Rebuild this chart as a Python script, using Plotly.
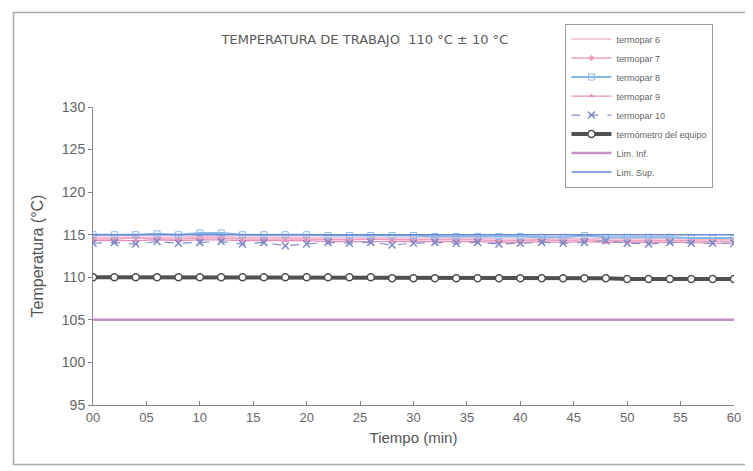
import plotly.graph_objects as go

tiempo = list(range(0, 61, 2))
termopar6 = [114.7, 114.7, 114.7, 114.7, 114.7, 114.8, 114.8, 114.7, 114.7, 114.7, 114.7, 114.6, 114.6, 114.6, 114.6, 114.6, 114.6, 114.6, 114.6, 114.5, 114.5, 114.5, 114.5, 114.6, 114.5, 114.5, 114.5, 114.5, 114.5, 114.4, 114.4]
termopar7 = [114.5, 114.5, 114.6, 114.5, 114.5, 114.6, 114.6, 114.5, 114.5, 114.5, 114.5, 114.4, 114.4, 114.5, 114.4, 114.4, 114.4, 114.4, 114.4, 114.3, 114.3, 114.4, 114.3, 114.4, 114.3, 114.3, 114.3, 114.3, 114.3, 114.2, 114.2]
termopar8 = [115.0, 115.0, 115.0, 115.1, 115.0, 115.2, 115.2, 115.0, 115.0, 115.0, 115.0, 114.9, 114.9, 114.9, 114.9, 114.9, 114.8, 114.8, 114.8, 114.8, 114.8, 114.7, 114.7, 114.9, 114.7, 114.7, 114.7, 114.7, 114.6, 114.6, 114.6]
termopar9 = [114.3, 114.3, 114.3, 114.4, 114.3, 114.4, 114.4, 114.3, 114.3, 114.3, 114.3, 114.2, 114.2, 114.2, 114.2, 114.2, 114.2, 114.2, 114.2, 114.1, 114.1, 114.2, 114.1, 114.2, 114.1, 114.1, 114.1, 114.1, 114.1, 114.0, 114.0]
termopar10 = [114.0, 114.1, 113.9, 114.2, 114.0, 114.1, 114.2, 113.9, 114.1, 113.7, 113.9, 114.1, 114.0, 114.1, 113.8, 114.0, 114.1, 114.0, 114.1, 113.9, 114.0, 114.1, 114.0, 114.1, 114.3, 114.0, 113.9, 114.1, 114.0, 114.0, 114.0]
termometro = [110.0, 110.0, 110.0, 110.0, 110.0, 110.0, 110.0, 110.0, 110.0, 110.0, 110.0, 110.0, 110.0, 110.0, 109.9, 109.9, 109.9, 109.9, 109.9, 109.9, 109.9, 109.9, 109.9, 109.9, 109.9, 109.8, 109.8, 109.8, 109.8, 109.8, 109.8]
lim_inf = [105.0] * len(tiempo)
lim_sup = [115.0] * len(tiempo)

x_ticks = list(range(0, 61, 5))
x_labels = ["00", "05", "10", "15", "20", "25", "30", "35", "40", "45", "50", "55", "60"]
y_ticks = list(range(95, 131, 5))

fig = go.Figure()
fig.add_trace(go.Scatter(x=tiempo, y=termopar6, name="termopar 6", mode="lines",
                         line=dict(color="#f4b8d4", width=1.5)))
fig.add_trace(go.Scatter(x=tiempo, y=termopar7, name="termopar 7", mode="lines+markers",
                         line=dict(color="#eea0bc", width=1.5),
                         marker=dict(symbol="diamond", size=5, color="#eea0bc")))
fig.add_trace(go.Scatter(x=tiempo, y=termopar8, name="termopar 8", mode="lines+markers",
                         line=dict(color="#88b8e8", width=2),
                         marker=dict(symbol="square-open", size=6, color="#88b8e8")))
fig.add_trace(go.Scatter(x=tiempo, y=termopar9, name="termopar 9", mode="lines+markers",
                         line=dict(color="#e38fc0", width=1.2),
                         marker=dict(symbol="triangle-up", size=5, color="#e38fc0")))
fig.add_trace(go.Scatter(x=tiempo, y=termopar10, name="termopar 10", mode="lines+markers",
                         line=dict(color="#8090c8", width=1.2, dash="dash"),
                         marker=dict(symbol="x-thin-open", size=7, color="#7c88c4",
                                     line=dict(width=1.5, color="#7c88c4"))))
fig.add_trace(go.Scatter(x=tiempo, y=termometro, name="termómetro del equipo", mode="lines+markers",
                         line=dict(color="#505050", width=4),
                         marker=dict(symbol="circle", size=7, color="white",
                                     line=dict(width=1.5, color="#505050"))))
fig.add_trace(go.Scatter(x=tiempo, y=lim_inf, name="Lim. Inf.", mode="lines",
                         line=dict(color="#c890c8", width=2.5)))
fig.add_trace(go.Scatter(x=tiempo, y=lim_sup, name="Lim. Sup.", mode="lines",
                         line=dict(color="#6a88d4", width=1.5)))

fig.update_layout(
    width=745, height=463,
    margin=dict(l=85, r=15, t=99, b=66),
    paper_bgcolor="white", plot_bgcolor="white",
    font=dict(family="Liberation Sans, Arial, sans-serif", color="#555555"),
    title=dict(text="TEMPERATURA DE TRABAJO  110 °C ± 10 °C", x=0.479, xanchor="center",
               y=0.932, yanchor="middle",
               font=dict(family="DejaVu Sans, sans-serif", size=13, color="#5a5a5a")),
    showlegend=True,
    legend=dict(x=0.737, y=1.28, xanchor="left", yanchor="top",
                bordercolor="#9a9a9a", borderwidth=1, bgcolor="rgba(255,255,255,0)",
                font=dict(size=9, color="#666666"), tracegroupgap=0,
                itemwidth=40),
    xaxis=dict(range=[0, 60], tickvals=x_ticks, ticktext=x_labels,
               showgrid=False, zeroline=False, showline=True, linecolor="#888888",
               ticks="inside", ticklen=4, tickcolor="#888888",
               tickfont=dict(size=13, color="#666666"),
               title=dict(text="Tiempo (min)", font=dict(size=15, color="#555555"), standoff=8)),
    yaxis=dict(range=[95, 130], tickvals=y_ticks,
               showgrid=False, zeroline=False, showline=True, linecolor="#888888",
               ticks="outside", ticklen=4, tickcolor="#888888",
               tickfont=dict(size=14, color="#666666"),
               title=dict(text="Temperatura (°C)", font=dict(size=16, color="#555555"), standoff=14)),
)

fig.add_shape(type="rect", xref="paper", yref="paper",
              x0=-0.124, x1=1.05, y0=-0.2, y1=1.317,
              line=dict(color="#aaaaaa", width=1.5), fillcolor="rgba(0,0,0,0)", layer="below")

fig.write_html("out.html")
